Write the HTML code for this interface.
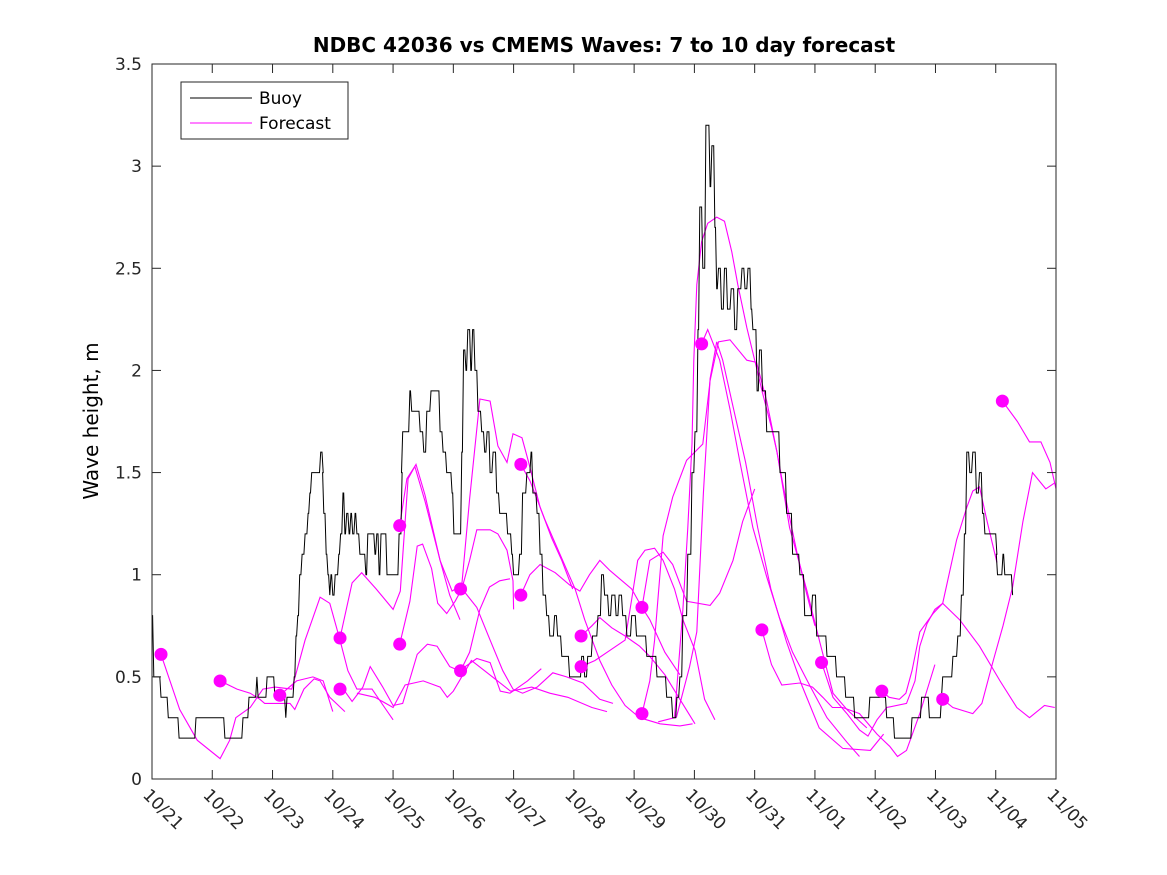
<!DOCTYPE html>
<html><head><meta charset="utf-8"><style>
body{margin:0;background:#fff}
svg{display:block;font-family:"DejaVu Sans","Liberation Sans",sans-serif}
</style></head><body>
<svg id="chart" width="1167" height="875" viewBox="0 0 1167 875" xmlns="http://www.w3.org/2000/svg">
<rect x="0" y="0" width="1167" height="875" fill="#fff"/>
<text x="604" y="52" text-anchor="middle" font-size="20" font-weight="bold">NDBC 42036 vs CMEMS Waves: 7 to 10 day forecast</text>
<text transform="translate(98,421) rotate(-90)" text-anchor="middle" font-size="20">Wave height, m</text>
<g id="marks"></g>
<g id="axes"></g>
<g>
<rect x="181" y="82" width="167" height="57" fill="#fff" stroke="#262626" stroke-width="1"/>
<line x1="190" y1="98" x2="252" y2="98" stroke="#000" stroke-width="1"/>
<text x="259" y="104" font-size="17">Buoy</text>
<line x1="190" y1="123" x2="252" y2="123" stroke="#f0f" stroke-width="1"/>
<text x="259" y="129" font-size="17">Forecast</text>
</g>
</svg>
<script>
const xTickLabels=["10/21","10/22","10/23","10/24","10/25","10/26","10/27","10/28","10/29","10/30","10/31","11/01","11/02","11/03","11/04","11/05"];
const yTicks=[0,0.5,1,1.5,2,2.5,3,3.5];
const yTickLabels=["0","0.5","1","1.5","2","2.5","3","3.5"];
const buoyDays=[0,0.03,0.13,0.15,0.25,0.27,0.43,0.45,0.71,0.73,1.19,1.21,1.49,1.51,1.59,1.61,1.72,1.74,1.76,1.89,1.91,2.02,2.04,2.21,2.22,2.24,2.32,2.36,2.39,2.42,2.45,2.49,2.54,2.59,2.62,2.65,2.77,2.80,2.84,2.85,2.89,2.92,2.95,2.97,3.00,3.04,3.10,3.13,3.17,3.20,3.23,3.27,3.30,3.33,3.37,3.40,3.45,3.55,3.58,3.68,3.70,3.73,3.77,3.80,3.86,3.90,4.06,4.10,4.15,4.16,4.25,4.28,4.31,4.41,4.45,4.51,4.56,4.63,4.74,4.78,4.83,4.89,4.98,5.01,5.09,5.14,5.17,5.21,5.24,5.29,5.32,5.36,5.41,5.47,5.52,5.56,5.61,5.66,5.72,5.77,5.86,5.90,5.97,6.00,6.07,6.10,6.15,6.22,6.29,6.32,6.39,6.44,6.49,6.55,6.60,6.68,6.73,6.80,6.93,7.10,7.13,7.18,7.23,7.31,7.40,7.46,7.51,7.58,7.63,7.70,7.75,7.81,7.88,7.96,8.04,8.14,8.21,8.31,8.38,8.46,8.54,8.64,8.71,8.76,8.81,8.89,8.96,9.01,9.06,9.09,9.14,9.19,9.24,9.26,9.29,9.34,9.37,9.40,9.45,9.50,9.55,9.61,9.67,9.72,9.79,9.84,9.89,9.94,9.97,10.04,10.08,10.13,10.20,10.37,10.42,10.53,10.63,10.75,10.83,10.95,10.96,11.03,11.20,11.35,11.36,11.51,11.66,11.87,11.91,12.16,12.19,12.32,12.57,12.61,12.74,12.77,12.87,12.90,13.07,13.10,13.12,13.27,13.29,13.37,13.43,13.48,13.52,13.57,13.62,13.68,13.73,13.78,13.82,13.93,14.02,14.03,14.12,14.15,14.26,14.28];
const buoyValues=[0.8,0.5,0.5,0.4,0.4,0.3,0.3,0.2,0.2,0.3,0.3,0.2,0.2,0.3,0.3,0.4,0.4,0.5,0.4,0.4,0.5,0.5,0.4,0.4,0.3,0.4,0.4,0.5,0.7,0.8,1.0,1.1,1.2,1.3,1.4,1.5,1.5,1.6,1.5,1.3,1.1,1.0,0.9,1.0,0.9,1.0,1.1,1.2,1.4,1.2,1.3,1.2,1.3,1.2,1.3,1.2,1.1,1.0,1.2,1.2,1.1,1.2,1.0,1.2,1.2,1.0,1.0,1.2,1.5,1.7,1.7,1.9,1.8,1.8,1.7,1.6,1.8,1.9,1.9,1.7,1.6,1.5,1.4,1.2,1.2,1.6,2.1,2.0,2.2,2.0,2.2,2.0,1.8,1.7,1.6,1.7,1.5,1.6,1.4,1.3,1.3,1.2,1.1,1.0,1.0,1.1,1.4,1.5,1.6,1.4,1.3,1.1,0.9,0.8,0.7,0.8,0.7,0.6,0.5,0.5,0.6,0.5,0.6,0.7,0.8,1.0,0.9,0.8,0.9,0.8,0.9,0.8,0.7,0.8,0.7,0.7,0.6,0.6,0.5,0.5,0.4,0.3,0.4,0.5,0.8,1.1,1.5,1.7,2.2,2.8,2.5,3.2,3.2,2.9,3.1,2.7,2.4,2.5,2.3,2.5,2.3,2.4,2.2,2.4,2.5,2.4,2.5,2.3,2.2,1.9,2.1,1.9,1.7,1.7,1.5,1.3,1.1,1.0,0.8,0.8,0.9,0.7,0.6,0.6,0.5,0.4,0.3,0.3,0.4,0.4,0.3,0.2,0.2,0.3,0.3,0.4,0.4,0.3,0.3,0.4,0.5,0.5,0.6,0.7,0.9,1.2,1.6,1.5,1.6,1.4,1.5,1.3,1.2,1.2,1.1,1.0,1.1,1.0,1.0,0.9];
const forecastDays=[
[0.15,0.46,0.75,1.13,1.29,1.39,1.63,1.84,2.04,2.32,2.54,2.79,2.95,3.12,3.25,3.40,3.65,3.86,4.00],
[1.13,1.41,1.63,1.79,1.87,2.29,2.37,2.52,2.69,2.79,2.95,3.20],
[2.12,2.40,2.67,2.84,3.00],
[3.12,3.32,3.48,3.72,4.00,4.12,4.25,4.38,4.53,4.78,4.94,5.11],
[3.15,3.32,3.50,3.62,3.83,4.00,4.16,4.40,4.57,4.73,4.94,5.10,5.39,5.61,5.78,5.94,6.23,6.46],
[3.40,3.70,4.00,4.20,4.50,4.78,4.90,5.00,5.30,5.65,5.95,6.30,6.60,6.90,7.30,7.55],
[4.11,4.23,4.36,4.53,4.78,4.98,5.14,5.27,5.44,5.61,5.74,5.89,5.99,6.14,6.24,6.44,6.63,6.80,6.98],
[4.11,4.28,4.40,4.49,4.64,4.74,4.89,5.03,5.14,5.27,5.39,5.61,5.74,5.89,5.99,6.00],
[5.12,5.27,5.44,5.60,5.77,5.94],
[5.12,5.39,5.61,5.82,5.99,6.15,6.39,6.65,6.88,7.15,7.43,7.65],
[6.12,6.27,6.52,6.77,7.02,7.18,7.43,7.63,7.85,8.09,8.43,8.76,8.97],
[6.12,6.27,6.44,6.69,6.93,7.10,7.26,7.43,7.60,7.76,7.96,8.13,8.26,8.51,8.76],
[7.12,7.30,7.43,7.63,7.85,8.09,8.26,8.51,8.76,9.01],
[7.12,7.35,7.60,7.85,7.96,8.06,8.18,8.34,8.48,8.67,8.81,9.01,9.17,9.34],
[8.13,8.26,8.48,8.64,8.87,9.26,9.42,9.64,9.80,10.00],
[8.13,8.26,8.34,8.48,8.64,8.87,9.14,9.26,9.40,9.59,9.87,10.03,10.20,10.37,10.58,10.86,11.08,11.30,11.53,11.86],
[8.40,8.67,8.81,8.89,8.96,8.99,9.04,9.12,9.22,9.37,9.50,9.62,9.72,9.87,10.00,10.13,10.28,10.37,10.47,10.58,10.70,10.86,11.00],
[8.70,8.92,9.04,9.15,9.26,9.37,9.47,9.62,9.85,10.05,10.27,10.53,10.78,11.07,11.46,11.92,12.14],
[9.12,9.22,9.42,9.59,9.75,9.97,10.20,10.41,10.63,10.91,11.20,11.53,11.74],
[10.12,10.28,10.45,10.75,10.96,11.13,11.29,11.46,11.74,12.03,12.24,12.37,12.52,12.74,12.99],
[11.11,11.30,11.53,11.74,11.88,12.03,12.19,12.52,12.66,12.74,12.86,12.99,13.12,13.40,13.73,14.07,14.35,14.56,14.81,14.98],
[12.11,12.23,12.40,12.51,12.61,12.74,12.96,13.12,13.35,13.52,13.62,13.73,13.85,14.02],
[13.12,13.29,13.62,13.77,13.95,14.12,14.28,14.45,14.61,14.83,14.98],
[14.11,14.36,14.56,14.75,14.90,15.00]];
const forecastValues=[
[0.61,0.34,0.19,0.10,0.19,0.30,0.35,0.44,0.45,0.44,0.68,0.89,0.86,0.68,0.53,0.44,0.44,0.35,0.29],
[0.48,0.44,0.42,0.39,0.37,0.37,0.34,0.44,0.49,0.48,0.40,0.33],
[0.41,0.48,0.50,0.48,0.33],
[0.69,0.96,1.01,0.93,0.83,0.92,1.47,1.54,1.39,1.07,0.90,0.78],
[0.45,0.38,0.45,0.55,0.45,0.36,0.37,0.61,0.66,0.65,0.55,0.53,0.59,0.57,0.43,0.42,0.48,0.54],
[0.42,0.40,0.35,0.46,0.48,0.45,0.40,0.43,0.58,0.50,0.43,0.45,0.42,0.40,0.35,0.33],
[1.24,1.47,1.53,1.36,1.07,0.92,0.95,1.37,1.86,1.85,1.63,1.55,1.69,1.67,1.56,1.33,1.18,1.07,0.93],
[0.66,0.87,1.14,1.15,1.03,0.86,0.81,0.87,0.93,1.07,1.22,1.22,1.20,1.12,0.97,0.83],
[0.53,0.62,0.83,0.94,0.97,0.98],
[0.94,0.84,0.68,0.53,0.44,0.42,0.45,0.52,0.50,0.47,0.39,0.37],
[1.54,1.46,1.27,1.10,0.93,0.78,0.58,0.46,0.36,0.30,0.27,0.26,0.27],
[0.90,1.00,1.05,1.01,0.95,0.92,1.00,1.07,1.02,0.98,0.93,0.84,0.78,0.62,0.51],
[0.70,0.75,0.79,0.74,0.70,0.65,0.60,0.51,0.39,0.27],
[0.55,0.58,0.63,0.68,0.88,1.07,1.12,1.13,1.07,0.93,0.78,0.63,0.39,0.29],
[0.84,1.07,1.11,1.05,0.87,0.85,0.91,1.07,1.26,1.42],
[0.32,0.48,0.68,1.19,1.38,1.56,1.64,1.95,2.14,2.15,2.05,2.04,1.85,1.60,1.23,0.93,0.67,0.42,0.34,0.25],
[0.28,0.30,0.83,1.23,1.64,2.05,2.42,2.63,2.72,2.75,2.73,2.58,2.42,2.21,2.05,1.89,1.72,1.60,1.44,1.28,1.11,0.91,0.75],
[0.30,0.55,0.72,1.40,1.96,2.14,2.05,1.85,1.55,1.23,0.93,0.67,0.46,0.25,0.15,0.14,0.22],
[2.13,2.20,2.05,1.81,1.56,1.23,0.99,0.79,0.62,0.46,0.30,0.18,0.11],
[0.73,0.56,0.46,0.47,0.45,0.40,0.35,0.35,0.32,0.22,0.16,0.11,0.14,0.32,0.56],
[0.57,0.40,0.32,0.24,0.21,0.29,0.35,0.37,0.48,0.65,0.76,0.83,0.86,0.78,0.65,0.48,0.35,0.30,0.36,0.35],
[0.43,0.40,0.39,0.42,0.53,0.72,0.81,0.86,1.17,1.33,1.41,1.43,1.27,1.06],
[0.39,0.35,0.32,0.37,0.57,0.75,0.94,1.26,1.50,1.42,1.45],
[1.85,1.75,1.65,1.65,1.55,1.42]];
const dotDays=[0.15,1.13,2.12,3.12,3.12,4.11,4.11,5.12,5.12,6.12,6.12,7.12,7.12,8.13,8.13,9.12,10.12,11.11,12.11,13.12,14.11];
const dotValues=[0.61,0.48,0.41,0.69,0.44,1.24,0.66,0.93,0.53,1.54,0.90,0.70,0.55,0.84,0.32,2.13,0.73,0.57,0.43,0.39,1.85];

const NS="http://www.w3.org/2000/svg";
const L=152,R=1056,T=64,B=779,XMAX=15,YMAX=3.5;
function xs(d){return L+(R-L)*d/XMAX;}
function ys(v){return B-(B-T)*v/YMAX;}
const marks=document.getElementById('marks');
const axes=document.getElementById('axes');
function mk(tag,attrs,parent){const e=document.createElementNS(NS,tag);for(const k in attrs)e.setAttribute(k,attrs[k]);parent.appendChild(e);return e;}

forecastDays.forEach((ds,i)=>{
  const vs=forecastValues[i];
  const pts=ds.map((d,j)=>xs(d).toFixed(1)+','+ys(vs[j]).toFixed(1)).join(' ');
  const p=mk('polyline',{points:pts,fill:'none',stroke:'#ff00ff','stroke-width':1.1},marks);
  
  
});
{
  let d='M'+xs(buoyDays[0]).toFixed(1)+','+ys(buoyValues[0]).toFixed(1);
  for(let j=1;j<buoyDays.length;j++){
    const x=xs(buoyDays[j]);
    d+=' L'+(x-1.2).toFixed(1)+','+ys(buoyValues[j-1]).toFixed(1)+' L'+x.toFixed(1)+','+ys(buoyValues[j]).toFixed(1);
  }
  const p=mk('path',{d:d,fill:'none',stroke:'#000','stroke-width':1},marks);
  
  
}
dotDays.forEach((d,i)=>{
  const c=mk('circle',{cx:xs(d),cy:ys(dotValues[i]),r:6.5,fill:'#ff00ff'},marks);
  
  
});
const box=mk('rect',{x:L,y:T,width:R-L,height:B-T,fill:'none',stroke:'#262626','stroke-width':1},axes);


xTickLabels.forEach((lab,i)=>{
  const x=xs(i);
  mk('line',{x1:x,y1:B,x2:x,y2:B-9,stroke:'#262626'},axes);
  mk('line',{x1:x,y1:T,x2:x,y2:T+9,stroke:'#262626'},axes);
  const t=mk('text',{transform:`translate(${x-10},${B+17}) rotate(45)`,'font-size':17,fill:'#262626'},axes);
  t.textContent=lab;
  
  
});
yTicks.forEach((v,i)=>{
  const y=ys(v);
  mk('line',{x1:L,y1:y,x2:L+9,y2:y,stroke:'#262626'},axes);
  mk('line',{x1:R,y1:y,x2:R-9,y2:y,stroke:'#262626'},axes);
  const t=mk('text',{x:L-10,y:y+6,'text-anchor':'end','font-size':17,fill:'#262626'},axes);
  t.textContent=yTickLabels[i];
  
  
});
</script>
</body></html>
